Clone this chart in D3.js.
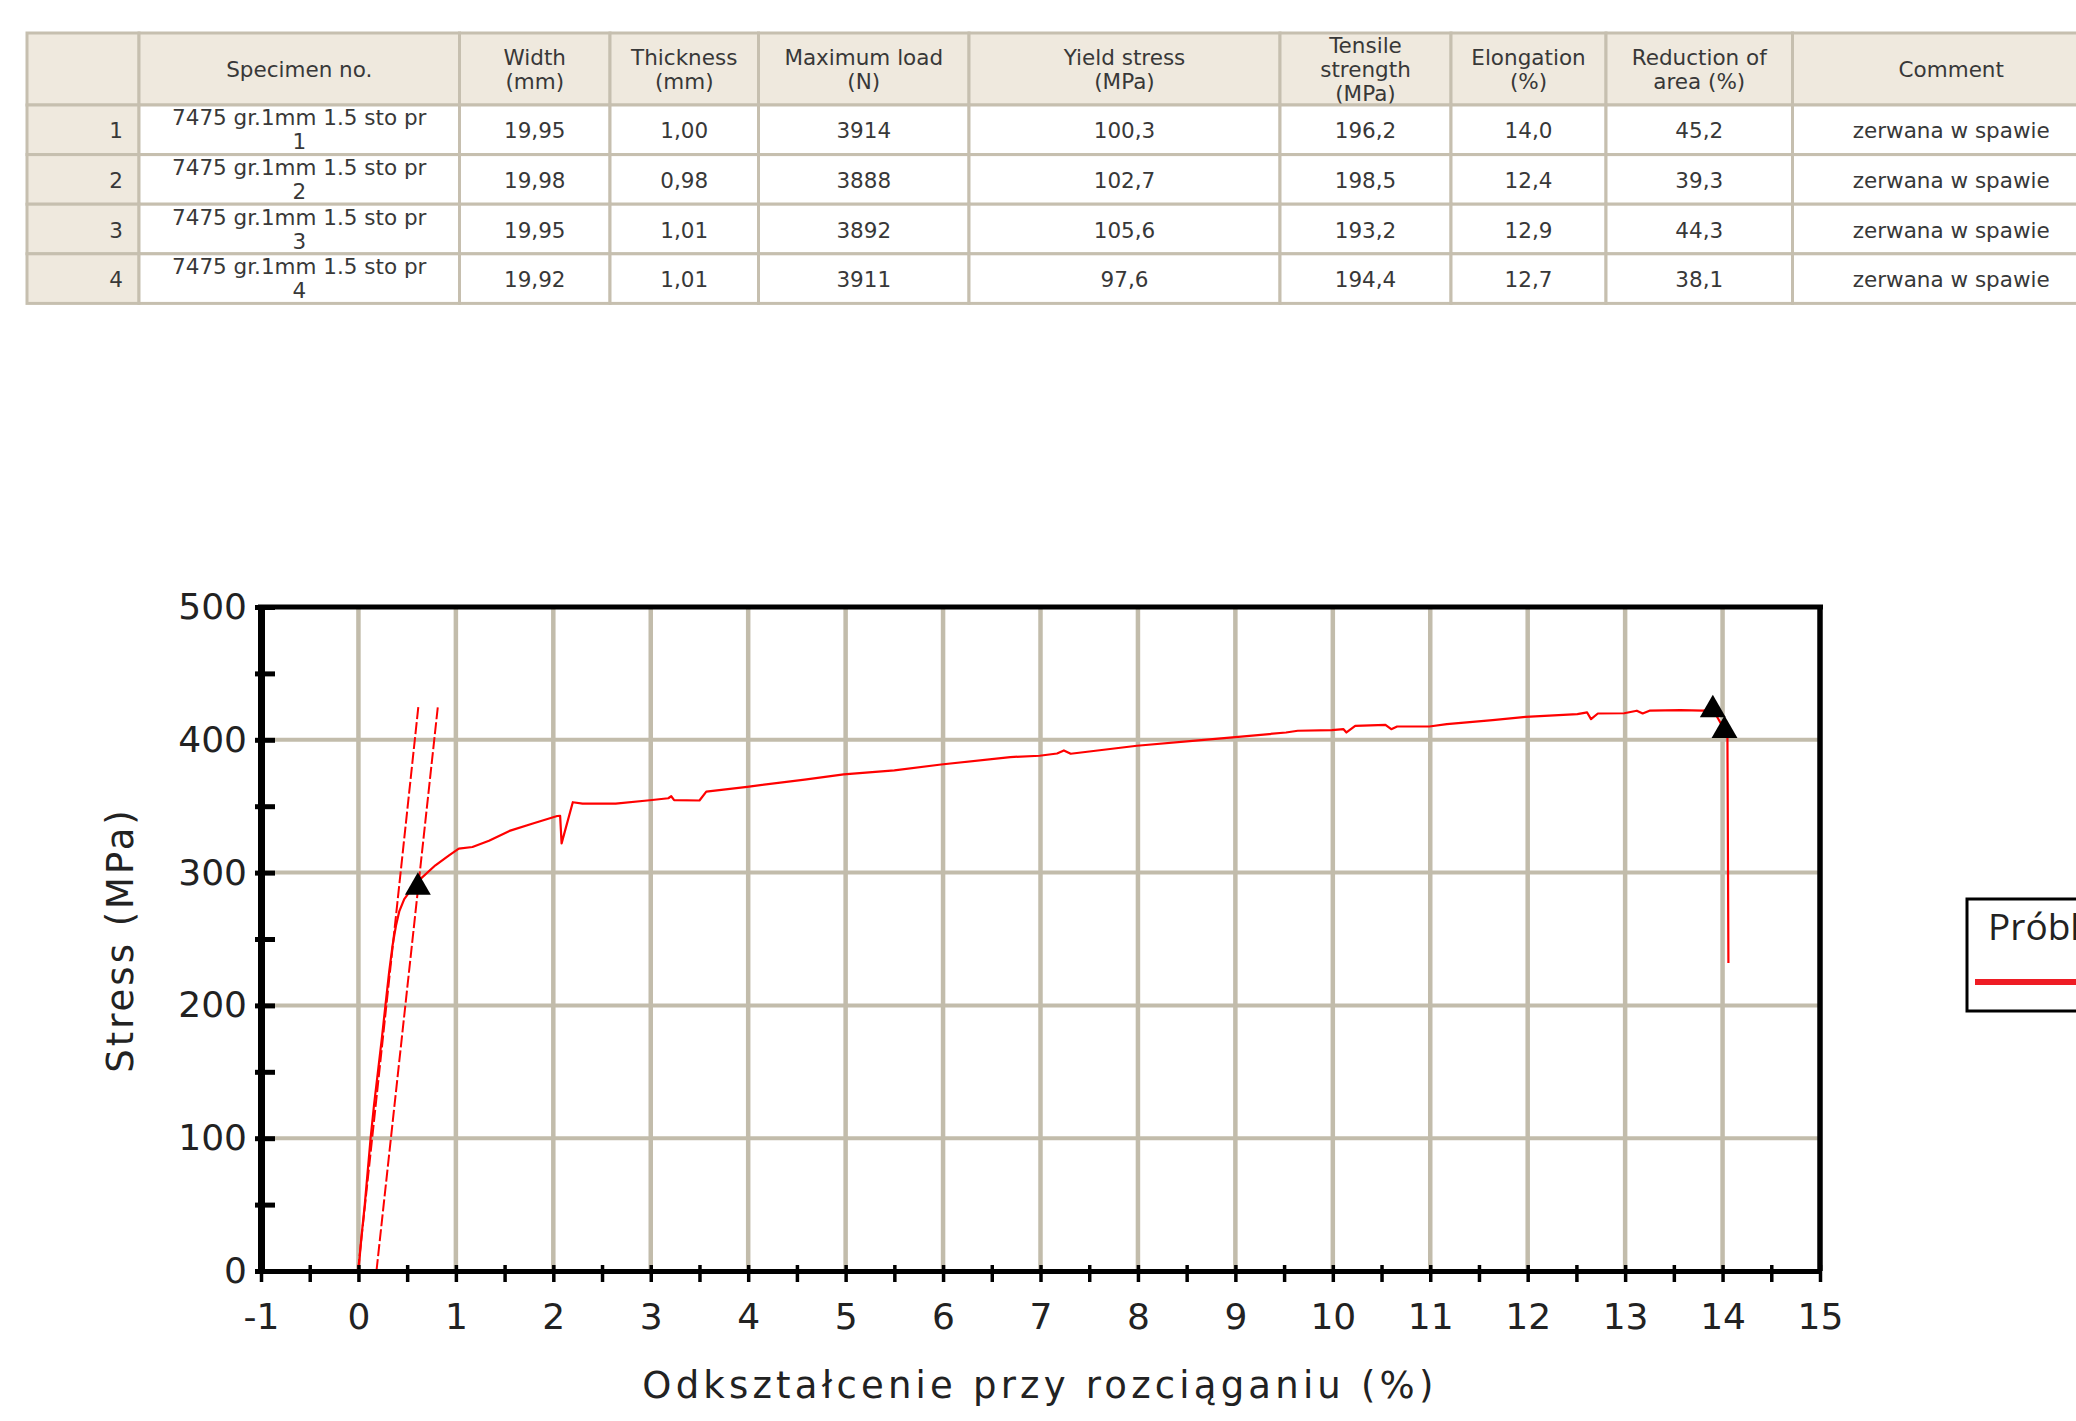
<!DOCTYPE html>
<html><head><meta charset="utf-8">
<script src="https://cdn.jsdelivr.net/npm/d3@7"></script>
<style>html,body{margin:0;padding:0;background:#fff;overflow:hidden}</style>
</head><body><svg id="c" width="2076" height="1421"></svg>
<script>
// ---------- table data ----------
const headerLabels = [[""], ["Specimen no."], ["Width", "(mm)"], ["Thickness", "(mm)"], ["Maximum load", "(N)"],
  ["Yield stress", "(MPa)"], ["Tensile", "strength", "(MPa)"], ["Elongation", "(%)"], ["Reduction of", "area (%)"], ["Comment"]];
const rowIndex = [1, 2, 3, 4];
const specimenNames = ["7475 gr.1mm 1.5 sto pr 1", "7475 gr.1mm 1.5 sto pr 2", "7475 gr.1mm 1.5 sto pr 3", "7475 gr.1mm 1.5 sto pr 4"];
const widthMm = [19.95, 19.98, 19.95, 19.92];
const thicknessMm = [1.00, 0.98, 1.01, 1.01];
const maxLoadN = [3914, 3888, 3892, 3911];
const yieldStressMPa = [100.3, 102.7, 105.6, 97.6];
const tensileStrengthMPa = [196.2, 198.5, 193.2, 194.4];
const elongationPct = [14.0, 12.4, 12.9, 12.7];
const reductionPct = [45.2, 39.3, 44.3, 38.1];
const comments = ["zerwana w spawie", "zerwana w spawie", "zerwana w spawie", "zerwana w spawie"];

// ---------- chart data ----------
const curveStrain = [0, 0.03, 0.065, 0.095, 0.125, 0.16, 0.2, 0.24, 0.277, 0.315, 0.35, 0.385, 0.42, 0.47, 0.53, 0.61,
  0.64, 0.79, 0.93, 1.03, 1.17, 1.34, 1.55, 1.79, 2.04, 2.07, 2.085, 2.2, 2.3, 2.64, 2.99, 3.18, 3.21, 3.24, 3.5, 3.57,
  3.99, 4.58, 4.98, 5.5, 5.98, 6.69, 6.99, 7.17, 7.24, 7.31, 7.99, 8.62, 9.0, 9.52, 9.64, 9.99, 10.11, 10.14, 10.23,
  10.54, 10.6, 10.66, 10.99, 11.17, 11.64, 11.98, 12.51, 12.61, 12.65, 12.72, 12.99, 13.12, 13.18, 13.25, 13.57, 13.8,
  13.9, 14.0, 14.05, 14.06];
const curveStress = [0, 25, 50, 75, 100, 125, 150, 175, 200, 225, 245, 260, 271, 280, 286, 290,
  295.5, 305.5, 313, 318, 319.3, 324, 331.4, 337, 342.6, 342.8, 322, 353, 352, 352, 354.5, 356, 357.5, 354.5, 354.3, 361,
  364.6, 370, 373.9, 377, 381.4, 387, 388, 389.7, 392, 389.5, 395.5, 399.5, 402, 405.5, 406.8, 407.3, 408, 405.5, 410.5,
  411.3, 408, 410, 410, 411.8, 414.8, 417.3, 419.3, 420.6, 415.6, 419.8, 420, 421.9, 419.8, 421.9, 422.4, 422,
  423, 410, 403, 232];
const elasticStrain = [-0.005, 0.615];
const elasticStress = [0, 425];
const offsetStrain = [0.185, 0.815];
const offsetStress = [0, 425];
const markerStrain = [0.61, 13.90, 14.02];
const markerStress = [289, 422.6, 407];
const xTickLabels = [-1, 0, 1, 2, 3, 4, 5, 6, 7, 8, 9, 10, 11, 12, 13, 14, 15];
const yTickLabels = [0, 100, 200, 300, 400, 500];
const xTitle = "Odkształcenie przy rozciąganiu (%)";
const yTitle = "Stress (MPa)";
const seriesName = "Próbka 1";

const svg = d3.select("#c");
svg.append("rect").attr("width", 2076).attr("height", 1421).attr("fill", "#fff");

// ---------- table ----------
const colEdges = [27, 139, 459.5, 610, 758.5, 969, 1280, 1451, 1606, 1792.5, 2110];
const headTop = 33, headBot = 105, rowH = 49.6;
const fmt = (f) => (v) => d3.format(f)(v).replace(".", ",");
const rows = rowIndex.map((r, i) => [String(r), specimenNames[i], fmt(".2f")(widthMm[i]), fmt(".2f")(thicknessMm[i]),
  String(maxLoadN[i]), fmt(".1f")(yieldStressMPa[i]), fmt(".1f")(tensileStrengthMPa[i]), fmt(".1f")(elongationPct[i]),
  fmt(".1f")(reductionPct[i]), comments[i]]);
const beige = "#efe9de", borderC = "#c6bfaf", textC = "#383838";
const tbl = svg.append("g").attr("font-family", "DejaVu Sans").attr("font-size", 21.5).attr("fill", textC);
// header
headerLabels.forEach((lines, c) => {
  const x0 = colEdges[c], x1 = colEdges[c + 1];
  tbl.append("rect").attr("x", x0).attr("y", headTop).attr("width", x1 - x0).attr("height", headBot - headTop)
    .attr("fill", beige).attr("stroke", borderC).attr("stroke-width", 3);
  const cy = (headTop + headBot) / 2, lh = 24;
  lines.forEach((t, k) => {
    tbl.append("text").attr("x", (x0 + x1) / 2).attr("y", cy + (k - (lines.length - 1) / 2) * lh)
      .attr("text-anchor", "middle").attr("dominant-baseline", "central").text(t);
  });
});
rows.forEach((row, r) => {
  const y0 = headBot + r * rowH, y1 = y0 + rowH, cy = (y0 + y1) / 2;
  row.forEach((val, c) => {
    const x0 = colEdges[c], x1 = colEdges[c + 1];
    tbl.append("rect").attr("x", x0).attr("y", y0).attr("width", x1 - x0).attr("height", rowH)
      .attr("fill", c === 0 ? beige : "#fff").attr("stroke", borderC).attr("stroke-width", 3);
    if (c === 0) {
      tbl.append("text").attr("x", x1 - 16).attr("y", cy + 1).attr("text-anchor", "end")
        .attr("dominant-baseline", "central").text(val);
    } else if (c === 1) {
      const cut = val.lastIndexOf(" ");
      const parts = [val.slice(0, cut), val.slice(cut + 1)];
      parts.forEach((t, k) => tbl.append("text").attr("x", (x0 + x1) / 2).attr("y", cy + (k - 0.5) * 24)
        .attr("text-anchor", "middle").attr("dominant-baseline", "central").text(t));
    } else {
      tbl.append("text").attr("x", (x0 + x1) / 2).attr("y", cy + 1).attr("text-anchor", "middle")
        .attr("dominant-baseline", "central").text(val);
    }
  });
});

// ---------- chart ----------
const L = 261, R = 1820, T = 607, B = 1271;
const x = d3.scaleLinear().domain([-1, 15]).range([L, R]);
const y = d3.scaleLinear().domain([0, 500]).range([B, T]);
const gridC = "#c2bcab";
const grid = svg.append("g");
grid.selectAll("line.v").data(xTickLabels.filter(d => d > -1 && d < 15)).join("line")
  .attr("x1", d => x(d)).attr("x2", d => x(d)).attr("y1", y(0)).attr("y2", y(500))
  .attr("stroke", gridC).attr("stroke-width", 4.5);
grid.selectAll("line.h").data(yTickLabels.filter(d => d > 0 && d < 500)).join("line")
  .attr("x1", x(-1)).attr("x2", x(15)).attr("y1", d => y(d)).attr("y2", d => y(d))
  .attr("stroke", gridC).attr("stroke-width", 4);

// curves
const red = "#ff0000";
const line = d3.line().x(d => x(d[0])).y(d => y(d[1]));
svg.append("path").datum(elasticStrain.map((s, i) => [s, elasticStress[i]])).attr("d", line)
  .attr("fill", "none").attr("stroke", red).attr("stroke-width", 2).attr("stroke-dasharray", "12,3");
svg.append("path").datum(offsetStrain.map((s, i) => [s, offsetStress[i]])).attr("d", line)
  .attr("fill", "none").attr("stroke", red).attr("stroke-width", 2).attr("stroke-dasharray", "12,3");
svg.append("path").datum(curveStrain.map((s, i) => [s, curveStress[i]])).attr("d", line)
  .attr("fill", "none").attr("stroke", red).attr("stroke-width", 2.2).attr("stroke-linejoin", "round");

// markers
svg.selectAll("path.mk").data(markerStrain.map((s, i) => [s, markerStress[i]])).join("path")
  .attr("d", d3.symbol(d3.symbolTriangle).size(290)())
  .attr("transform", d => `translate(${x(d[0])},${y(d[1])})`).attr("fill", "#000");

// axes
const yAxis = d3.axisLeft(y).tickValues(d3.range(0, 501, 50)).tickSizeInner(6).tickSizeOuter(0).tickPadding(8)
  .tickFormat(d => yTickLabels.includes(d) ? String(d) : "");
const gy = svg.append("g").attr("transform", `translate(${L},0)`).call(yAxis);
gy.select(".domain").attr("stroke", "#000").attr("stroke-width", 7);
gy.selectAll(".tick line").attr("x1", 14).attr("stroke", "#000").attr("stroke-width", 5);
gy.selectAll(".tick text").attr("font-family", "DejaVu Sans").attr("font-size", 36).attr("fill", "#222");

const xAxis = d3.axisBottom(x).tickValues(d3.range(-1, 15.01, 0.5)).tickSizeInner(11).tickSizeOuter(0).tickPadding(21)
  .tickFormat(d => xTickLabels.includes(d) ? String(d) : "");
const gx = svg.append("g").attr("transform", `translate(0,${B})`).call(xAxis);
gx.select(".domain").attr("stroke", "#000").attr("stroke-width", 5);
gx.selectAll(".tick line").attr("y1", -6).attr("stroke", "#000").attr("stroke-width", 3.5);
gx.selectAll(".tick text").attr("font-family", "DejaVu Sans").attr("font-size", 36).attr("fill", "#222");

// top & right spines
svg.append("line").attr("x1", L - 3).attr("x2", R + 3).attr("y1", T).attr("y2", T).attr("stroke", "#000").attr("stroke-width", 5);
svg.append("line").attr("x1", R).attr("x2", R).attr("y1", T).attr("y2", B).attr("stroke", "#000").attr("stroke-width", 5.5);

// titles
svg.append("text").attr("x", 1040).attr("y", 1398).attr("text-anchor", "middle")
  .attr("font-family", "DejaVu Sans").attr("font-size", 37).attr("letter-spacing", 4.2).attr("fill", "#222").text(xTitle);
svg.append("text").attr("transform", "translate(133,940) rotate(-90)").attr("text-anchor", "middle")
  .attr("font-family", "DejaVu Sans").attr("font-size", 37).attr("letter-spacing", 3).attr("fill", "#222").text(yTitle);

// legend
const lg = svg.append("g");
lg.append("rect").attr("x", 1967).attr("y", 899).attr("width", 160).attr("height", 112)
  .attr("fill", "#fff").attr("stroke", "#000").attr("stroke-width", 3);
lg.append("text").attr("x", 1988).attr("y", 940).attr("font-family", "Open Sans").attr("font-size", 37)
  .attr("fill", "#222").text(seriesName);
lg.append("line").attr("x1", 1975).attr("x2", 2130).attr("y1", 982).attr("y2", 982)
  .attr("stroke", "#ee1c24").attr("stroke-width", 6);
</script></body></html>
